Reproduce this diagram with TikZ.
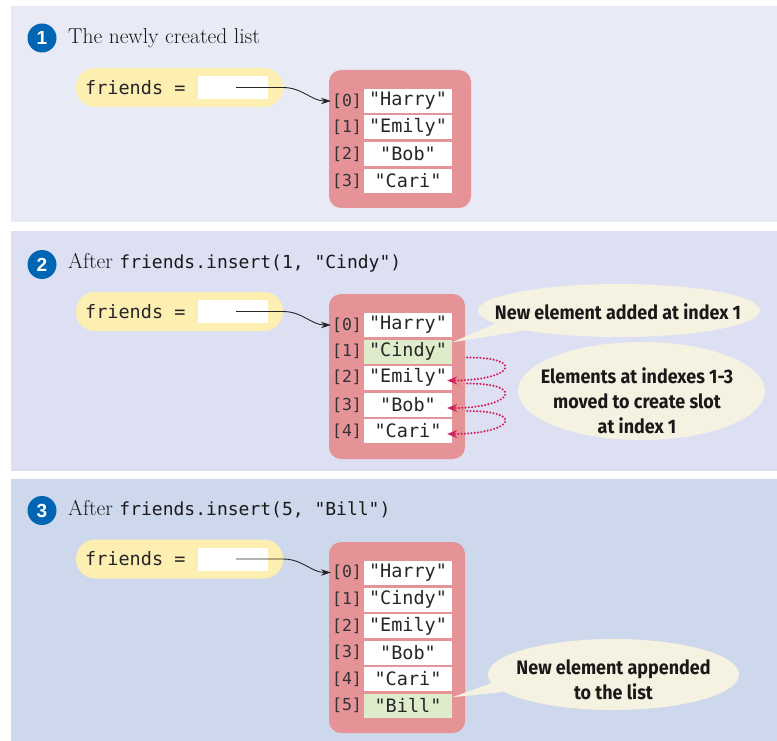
\documentclass[tikz,border=0pt]{standalone}
\usepackage{fontspec}
\setmonofont{DejaVu Sans Mono}
\newfontfamily\numfont{Liberation Sans}
\newfontfamily\notefont[FakeStretch=0.92]{Fira Sans}
\usetikzlibrary{arrows.meta, shapes.geometric}
\definecolor{panelA}{RGB}{232,234,246}
\definecolor{panelB}{RGB}{220,224,242}
\definecolor{panelC}{RGB}{206,216,236}
\definecolor{listpink}{RGB}{229,147,151}
\definecolor{varyellow}{RGB}{253,238,178}
\definecolor{notefill}{RGB}{246,242,226}
\definecolor{newgreen}{RGB}{222,236,204}
\definecolor{stepblue}{RGB}{0,102,179}
\definecolor{moved}{RGB}{212,32,90}

\begin{document}
\begin{tikzpicture}[x=1pt, y=-1pt, >=Stealth,
  title/.style={anchor=base west, inner sep=0, text=black!90, font=\fontsize{21.5}{24}\selectfont},
  badge/.style={circle, fill=stepblue, text=white, minimum size=29pt, inner sep=0, font=\numfont\bfseries\fontsize{19}{19}\selectfont},
  varname/.style={anchor=west, inner sep=0, text=black!85, font=\ttfamily\fontsize{18.5}{20}\selectfont},
  refbox/.style={fill=white, minimum width=70pt, minimum height=23pt, inner sep=0},
  idx/.style={inner sep=0, text=black!80, font=\ttfamily\fontsize{16.5}{18}\selectfont},
  cell/.style={fill=white, minimum width=88pt, minimum height=24pt, inner sep=0, text=black!85, font=\ttfamily\fontsize{18.5}{20}\selectfont},
  newcell/.style={cell, fill=newgreen},
  ptr/.style={-{Stealth[length=10pt, width=6.5pt]}, line width=0.9pt, black!85},
  note/.style={ellipse, fill=notefill, inner sep=0},
  notetext/.style={align=center, inner sep=0, text=black!90, font=\notefont\bfseries\fontsize{19.5}{25}\selectfont},
  moveline/.style={draw=moved, line width=2.3pt, dash pattern=on 0pt off 3.3pt, line cap=round, -{Stealth[length=10pt, width=8pt]}}]
  \useasboundingbox (0,0) rectangle (777,741);

  % 1: new list
  \fill[panelA] (11,6) rectangle (777,222);
  \node[badge] (n1) at (42,38) {1};
  \node[title] (t1) at (68,44) {The newly created list};
  \fill[varyellow, rounded corners=19pt] (76,68) rectangle (283,107);
  \node[varname] (v1) at (85,87.5) {friends =};
  \node[refbox] (r1) at (233,87.5) {};
  \fill[listpink, rounded corners=12pt] (329,70) rectangle (471,208);
  \node[idx] (i10) at (347,101) {[0]};
  \node[idx] (i11) at (347,127.5) {[1]};
  \node[idx] (i12) at (347,154) {[2]};
  \node[idx] (i13) at (347,181) {[3]};
  \node[cell] (b10) at (408,101) {"Harry"};
  \node[cell] (b11) at (408,127.5) {"Emily"};
  \node[cell] (b12) at (408,154) {"Bob"};
  \node[cell] (b13) at (408,181) {"Cari"};
  \coordinate (p1) at (236,87.5);
  \draw[ptr] (p1) -- ++(47,0) to[out=0, in=180] ([xshift=-1pt]i10.west);

  % 2: insert at index 1
  \fill[panelB] (11,231) rectangle (777,471);
  \node[badge] (n2) at (42,264.5) {2};
  \node[title] (t2) at (68,268) {After {\ttfamily\fontsize{18}{22}\selectfont friends.insert(1, "Cindy")}};
  \fill[varyellow, rounded corners=19pt] (76,292) rectangle (283,331);
  \node[varname] (v2) at (85,311.5) {friends =};
  \node[refbox] (r2) at (233,311.5) {};
  \fill[listpink, rounded corners=12pt] (329,294) rectangle (465,459);
  \node[idx] (i20) at (347,325) {[0]};
  \node[idx] (i21) at (347,351.5) {[1]};
  \node[idx] (i22) at (347,377.5) {[2]};
  \node[idx] (i23) at (347,405) {[3]};
  \node[idx] (i24) at (347,431) {[4]};
  \node[cell] (b20) at (408,325) {"Harry"};
  \node[newcell] (b21) at (408,351.5) {"Cindy"};
  \node[cell] (b22) at (408,377.5) {"Emily"};
  \node[cell] (b23) at (408,405) {"Bob"};
  \node[cell] (b24) at (408,431) {"Cari"};
  \coordinate (p2) at (236,311.5);
  \draw[ptr] (p2) -- ++(47,0) to[out=0, in=180] ([xshift=-1pt]i20.west);

  \draw[moveline] ([xshift=15pt, yshift=-6pt]b21.east) .. controls +(60,0) and +(65,0) .. ([xshift=-5pt, yshift=-3pt]b22.east);
  \draw[moveline] ([xshift=15pt, yshift=-6pt]b22.east) .. controls +(60,0) and +(65,0) .. ([xshift=-5pt, yshift=-3pt]b23.east);
  \draw[moveline] ([xshift=15pt, yshift=-6pt]b23.east) .. controls +(60,0) and +(65,0) .. ([xshift=-5pt, yshift=-3pt]b24.east);

  \node[note, minimum width=282pt, minimum height=53pt] (c1) at (619,310.5) {};
  \fill[notefill] ([yshift=-3pt]b21.north east) -- (c1.186) -- (c1.192) -- cycle;
  \node[notetext] at (618,311.5) {New element added at index 1};
  \node[note, minimum width=247pt, minimum height=98pt] (c2) at (641.5,391) {};
  \node[notetext] at (637,401) {Elements at indexes 1-3\\moved to create slot\\at index 1};

  % 3: insert at the end
  \fill[panelC] (11,479) rectangle (777,741);
  \node[badge] (n3) at (42,510.5) {3};
  \node[title] (t3) at (68,515.5) {After {\ttfamily\fontsize{18}{22}\selectfont friends.insert(5, "Bill")}};
  \fill[varyellow, rounded corners=19pt] (76,539.5) rectangle (283,578.5);
  \node[varname] (v3) at (85,559) {friends =};
  \node[refbox] (r3) at (233,559) {};
  \fill[listpink, rounded corners=12pt] (329,542) rectangle (465,733);
  \node[idx] (i30) at (347,572.5) {[0]};
  \node[idx] (i31) at (347,599.5) {[1]};
  \node[idx] (i32) at (347,626) {[2]};
  \node[idx] (i33) at (347,652.5) {[3]};
  \node[idx] (i34) at (347,679) {[4]};
  \node[idx] (i35) at (347,705.5) {[5]};
  \node[cell] (b30) at (408,572.5) {"Harry"};
  \node[cell] (b31) at (408,599.5) {"Cindy"};
  \node[cell] (b32) at (408,626) {"Emily"};
  \node[cell] (b33) at (408,652.5) {"Bob"};
  \node[cell] (b34) at (408,679) {"Cari"};
  \node[newcell] (b35) at (408,705.5) {"Bill"};
  \coordinate (p3) at (236,559);
  \draw[ptr] (p3) -- ++(47,0) to[out=0, in=180] ([xshift=-1pt]i30.west);

  \node[note, minimum width=251pt, minimum height=71pt] (c3) at (613.5,674.5) {};
  \fill[notefill] ([yshift=-4pt]b35.north east) -- (c3.184) -- (c3.189) -- cycle;
  \node[notetext] at (613.5,680) {New element appended\\to the list};
\end{tikzpicture}
\end{document}
